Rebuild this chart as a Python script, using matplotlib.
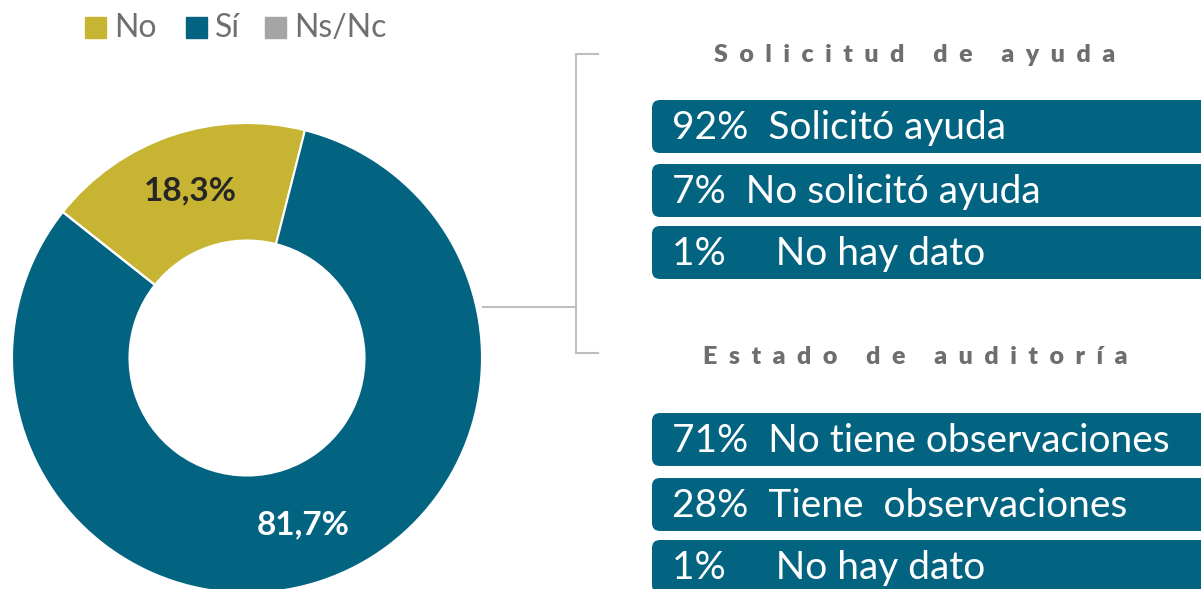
import matplotlib.pyplot as plt
from matplotlib.patches import FancyBboxPatch, Rectangle

plt.rcParams['font.family'] = ['Lato', 'DejaVu Sans']

# donut data
categories = ['No', 'Sí', 'Ns/Nc']
shares = [18.3, 81.7, 0.0]
colors = ['#C8B433', '#036482', '#A5A5A5']

# side panels
help_title = 'Solicitud de ayuda'
help_pct = ['92%', '7%', '1%']
help_lbl = ['Solicitó ayuda', 'No solicitó ayuda', '   No hay dato']
audit_title = 'Estado de auditoría'
audit_pct = ['71%', '28%', '1%']
audit_lbl = ['No tiene observaciones', 'Tiene  observaciones', '   No hay dato']

W, H = 1201, 589
fig = plt.figure(figsize=(W / 100, H / 100), dpi=100)

# overlay axes in pixel coordinates
ov = fig.add_axes([0, 0, 1, 1])
ov.set_xlim(0, W)
ov.set_ylim(H, 0)
ov.axis('off')

# donut
cx, cy, r = 247, 358, 235
ax = fig.add_axes([(cx - r) / W, (H - cy - r) / H, 2 * r / W, 2 * r / H])
wedges, _, autotexts = ax.pie(
    shares, colors=colors, startangle=141.6, counterclock=False, radius=1,
    wedgeprops=dict(width=0.5, edgecolor='white', linewidth=1.5),
    autopct=lambda p: ('%.1f%%' % p).replace('.', ',') if p > 0 else '',
    pctdistance=0.75)
ax.set_xlim(-1, 1)
ax.set_ylim(-1, 1)
ax.set_aspect('equal')
for t, c in zip(autotexts, ['#262626', 'white', 'white']):
    t.set_color(c)
    t.set_fontsize(24)
    t.set_fontweight('bold')

# legend
lx = [85, 186, 265]
for x, name, c in zip(lx, categories, colors):
    ov.add_patch(Rectangle((x, 17), 21, 21, color=c))
    ov.text(x + 29, 28, name, fontsize=23, color='#6F6F6F', va='center', ha='left')

# bracket lines
lc = '#BFBFBF'
ov.plot([483, 576], [307, 307], color=lc, lw=1.5)
ov.plot([576, 576], [54, 353], color=lc, lw=1.5)
ov.plot([576, 598], [54, 54], color=lc, lw=1.5)
ov.plot([576, 598], [353, 353], color=lc, lw=1.5)


def panel(title, ty, pcts, lbls, tops):
    ov.text(915, ty, '  '.join(title), fontsize=18, fontweight='heavy',
            color='#6E6E6E', ha='center', va='center')
    for top, p, l in zip(tops, pcts, lbls):
        ov.add_patch(FancyBboxPatch((652, top), 600, 53,
                                    boxstyle='round,pad=0,rounding_size=8',
                                    fc='#036482', ec='none'))
        ov.text(672, top + 28, p + '  ' + l, fontsize=28, color='white',
                ha='left', va='center')


panel(help_title, 55, help_pct, help_lbl, [100, 164, 226])
panel(audit_title, 357, audit_pct, audit_lbl, [413, 478, 540])

fig.savefig('out.png', dpi=100)
